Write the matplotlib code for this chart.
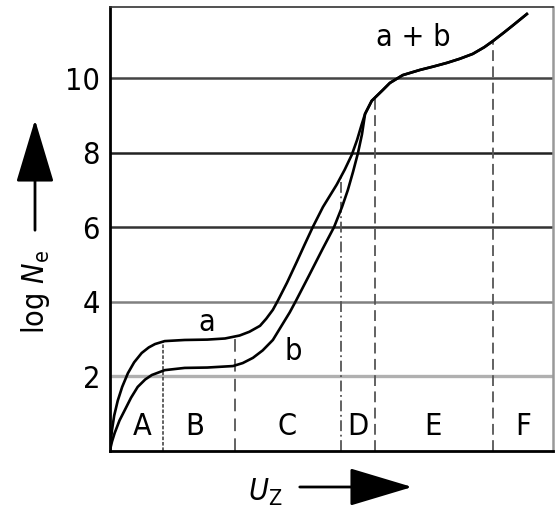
import numpy as np
import matplotlib
matplotlib.use("Agg")
import matplotlib.pyplot as plt
from matplotlib.patches import FancyArrowPatch

plt.rcParams['font.family'] = ['DejaVu Sans']
plt.rcParams['font.stretch'] = 'condensed'
plt.rcParams['mathtext.fontset'] = 'custom'
plt.rcParams['mathtext.rm'] = 'DejaVu Sans:stretch=condensed'
plt.rcParams['mathtext.it'] = 'DejaVu Sans:italic:stretch=condensed'

# curve a (upper)
a_x = [0, 0.05, 0.1, 0.18, 0.28, 0.41, 0.55, 0.72, 0.88, 1.02, 1.24, 1.69, 2.2,
       2.6, 2.93, 3.15, 3.39, 3.53, 3.68, 3.79, 4.0, 4.22, 4.4, 4.58, 4.81, 5.12,
       5.3, 5.46, 5.58, 5.68, 5.76, 5.91, 6.16, 6.32, 6.61, 7.0, 7.3, 7.61, 7.9,
       8.19, 8.45, 8.65, 8.9, 9.1, 9.41]
a_y = [0, 0.56, 0.95, 1.35, 1.72, 2.09, 2.38, 2.63, 2.78, 2.87, 2.95, 2.98, 2.99,
       3.02, 3.1, 3.2, 3.36, 3.55, 3.79, 4.03, 4.52, 5.08, 5.55, 6.01, 6.55, 7.15,
       7.55, 7.95, 8.35, 8.75, 9.05, 9.4, 9.69, 9.88, 10.09, 10.23, 10.32, 10.42, 10.53,
       10.66, 10.84, 11.01, 11.24, 11.43, 11.73]

# curve b (lower) until it joins a
b_x_low = [0, 0.05, 0.11, 0.22, 0.34, 0.48, 0.63, 0.8, 0.95, 1.24, 1.69, 2.2, 2.78,
           3.0, 3.23, 3.45, 3.68, 3.87, 4.06, 4.2, 4.5, 4.8, 5.06, 5.24, 5.37, 5.49,
           5.6, 5.69]
b_y_low = [0, 0.25, 0.48, 0.82, 1.1, 1.43, 1.72, 1.92, 2.04, 2.17, 2.23, 2.24, 2.28,
           2.36, 2.5, 2.7, 2.98, 3.35, 3.72, 4.03, 4.72, 5.42, 6.01, 6.55, 7.0, 7.5,
           8.0, 8.5]

# region borders and names
borders = [1.2, 2.82, 5.21, 5.98, 8.65]
border_styles = [(0, (2, 1)), (0, (7, 4)), (0, (6, 2, 1, 2)), (0, (6, 3)), (0, (6, 3))]
regions = ['A', 'B', 'C', 'D', 'E', 'F']
region_x = [0.72, 1.92, 4.0, 5.6, 7.29, 9.32]

grid_y = [2, 4, 6, 8, 10]
grid_colors = ['#b0b0b0', '#808080', '#333333', '#222222', '#444444']

join = a_x.index(5.76)
b_x = b_x_low + a_x[join:]
b_y = b_y_low + a_y[join:]

fig = plt.figure(figsize=(5.6, 5.23), dpi=100)
ax = fig.add_axes([0.196, 0.1377, 0.7915, 0.849])
ax.set_xlim(0, 10)
ax.set_ylim(0, 11.92)

for y, c in zip(grid_y, grid_colors):
    ax.axhline(y, color=c, lw=1.8 if y > 2 else 2.4, zorder=1)

for bx, ls in zip(borders, border_styles):
    top = np.interp(bx, a_x, a_y)
    ax.plot([bx, bx], [0, top], color='#555555', lw=1.3, linestyle=ls, zorder=2)

ax.plot(a_x, a_y, color='black', lw=1.9, zorder=3, solid_joinstyle='round')
ax.plot(b_x, b_y, color='black', lw=1.9, zorder=3, solid_joinstyle='round')

fs = 22
ax.text(2.19, 3.44, 'a', fontsize=fs, ha='center', va='center')
ax.text(4.15, 2.68, 'b', fontsize=fs, ha='center', va='center')
ax.text(6.84, 11.09, 'a + b', fontsize=fs, ha='center', va='center')
for name, rx in zip(regions, region_x):
    ax.text(rx, 0.65, name, fontsize=fs, ha='center', va='center')

ax.set_xticks([])
ax.set_yticks(grid_y)
ax.set_yticklabels([str(v) for v in grid_y], fontsize=fs)
ax.tick_params(axis='y', length=0, pad=7)

ax.spines['left'].set_linewidth(2.0)
ax.spines['bottom'].set_linewidth(2.0)
ax.spines['top'].set_linewidth(1.2)
ax.spines['top'].set_color('#333333')
ax.spines['right'].set_linewidth(1.8)
ax.spines['right'].set_color('#999999')

# axis labels with arrows
fig.text(0.0625, 1 - 292 / 523, r'log $N_\mathrm{e}$', fontsize=fs, rotation=90,
         ha='center', va='center')
fig.add_artist(FancyArrowPatch((35 / 560, 1 - 233 / 523), (35 / 560, 1 - 117 / 523),
                               transform=fig.transFigure, arrowstyle='-|>,head_length=2.0,head_width=0.6',
                               mutation_scale=20, color='black', lw=2))
fig.text(265 / 560, 1 - 492 / 523, r'$U_\mathrm{Z}$', fontsize=fs, ha='center', va='center')
fig.add_artist(FancyArrowPatch((297 / 560, 1 - 487 / 523), (415 / 560, 1 - 487 / 523),
                               transform=fig.transFigure, arrowstyle='-|>,head_length=2.0,head_width=0.6',
                               mutation_scale=20, color='black', lw=2))

fig.savefig('out.png', dpi=100)
